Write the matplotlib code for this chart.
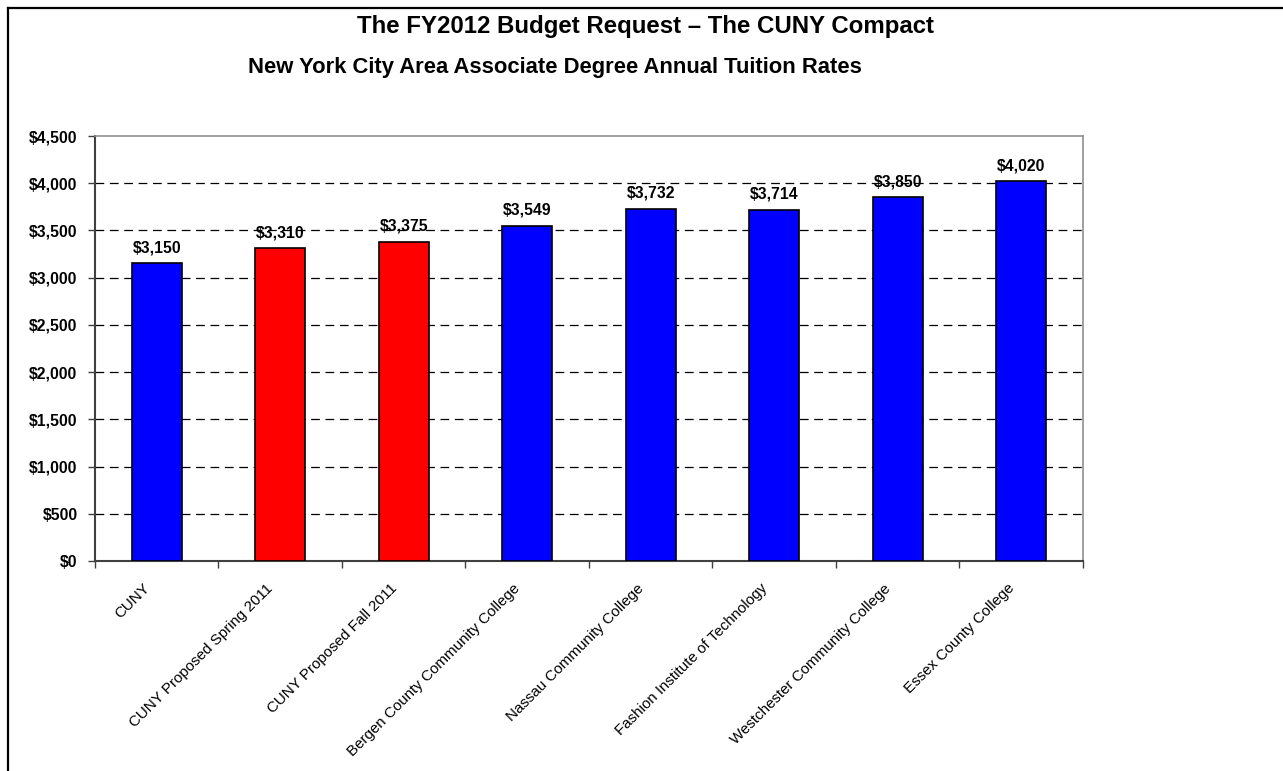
import matplotlib.pyplot as plt
from matplotlib.ticker import FuncFormatter
from matplotlib.lines import Line2D

plt.rcParams['font.family'] = ['Liberation Sans', 'DejaVu Sans']

colleges = ['CUNY', 'CUNY Proposed Spring 2011', 'CUNY Proposed Fall 2011',
            'Bergen County Community College', 'Nassau Community College',
            'Fashion Institute of Technology', 'Westchester Community College',
            'Essex County College']
tuition = [3150, 3310, 3375, 3549, 3732, 3714, 3850, 4020]
proposed = [False, True, True, False, False, False, False, False]

title = 'The FY2012 Budget Request \u2013 The CUNY Compact'
subtitle = 'New York City Area Associate Degree Annual Tuition Rates'

fig = plt.figure(figsize=(12.83, 7.71), dpi=100)
ax = fig.add_axes([0.0740, 0.2724, 0.7701, 0.5512])

colors = ['#FF0000' if p else '#0000FF' for p in proposed]
xs = list(range(len(colleges)))
ax.bar(xs, tuition, width=0.405, color=colors, edgecolor='black', linewidth=1.2, zorder=3)

for x, v in zip(xs, tuition):
    ax.annotate('${:,.0f}'.format(v), (x, v), xytext=(0, 6), textcoords='offset points',
                ha='center', va='bottom', fontsize=11.3, fontweight='bold', zorder=4)

ax.set_xlim(-0.5, len(colleges) - 0.5)
ax.set_ylim(0, 4500)
ax.set_yticks(range(0, 4501, 500))
ax.yaxis.set_major_formatter(FuncFormatter(lambda v, p: '${:,.0f}'.format(v)))
for lab in ax.get_yticklabels():
    lab.set_fontweight('bold')
ax.tick_params(axis='y', labelsize=11.3, length=5, width=1, color='#404040', pad=7.5)

# gridlines
for y in range(500, 4500, 500):
    ax.axhline(y, color='black', linewidth=0.9, dashes=(7, 4.5), zorder=1)

# category labels, drawn by hand so they can sit a bit left of the bar centre
ax.set_xticks([x + 0.5 for x in xs[:-1]] + [-0.5, len(colleges) - 0.5])
ax.set_xticklabels([])
ax.tick_params(axis='x', length=5, width=1, color='#404040')
for x, name in zip(xs, colleges):
    ax.annotate(name, (x, 0), xycoords=('data', 'axes fraction'), xytext=(-6.6, -18.2),
                textcoords='offset points', rotation=45, ha='right', va='center',
                rotation_mode='anchor', fontsize=10.9)

for side in ['top', 'right']:
    ax.spines[side].set_color('#909090')
    ax.spines[side].set_linewidth(1.2)
for side in ['left', 'bottom']:
    ax.spines[side].set_color('#404040')
    ax.spines[side].set_linewidth(1.5)

fig.text(0.5035, 0.9572, title, ha='center', va='baseline', fontsize=17.3, fontweight='bold')
fig.text(0.4326, 0.9053, subtitle, ha='center', va='baseline', fontsize=15.8, fontweight='bold')

# partial outer frame (top and left edges)
fig.add_artist(Line2D([8 / 1283, 8 / 1283], [0, 1 - 8 / 771], transform=fig.transFigure,
                      color='black', linewidth=1.6))
fig.add_artist(Line2D([8 / 1283, 1], [1 - 8 / 771, 1 - 8 / 771], transform=fig.transFigure,
                      color='black', linewidth=1.6))

fig.savefig('out.png', dpi=100)
